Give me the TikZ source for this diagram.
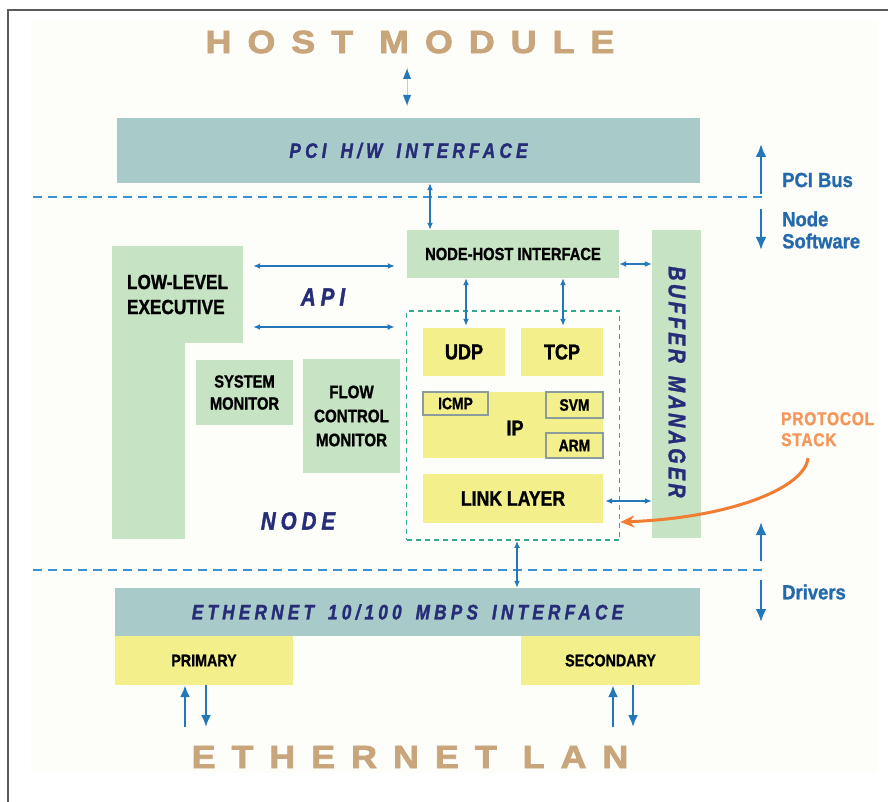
\documentclass[tikz,border=0pt]{standalone}
\usepackage{fontspec}
\setmainfont{Liberation Sans}
\newfontfamily\cnd[FakeStretch=0.84, BoldFeatures={FakeBold=1.2}]{Liberation Sans}
\newfontfamily\nvf[FakeStretch=0.82, BoldItalicFeatures={FakeBold=1.4}]{Liberation Sans}
\newfontfamily\ttlf[FakeStretch=1.12, BoldFeatures={FakeBold=2.4}]{Liberation Sans}
\newfontfamily\blf[FakeStretch=0.9, BoldFeatures={FakeBold=1}]{Liberation Sans}
\usetikzlibrary{arrows.meta,calc}
\definecolor{tealbox}{RGB}{168,203,201}
\definecolor{greenbox}{RGB}{198,228,196}
\definecolor{yelbox}{RGB}{243,240,140}
\definecolor{navy}{RGB}{38,44,120}
\definecolor{arrblue}{RGB}{35,120,185}
\definecolor{dashblue}{RGB}{60,145,210}
\definecolor{orng}{RGB}{240,125,50}
\definecolor{orngtxt}{RGB}{245,150,90}
\definecolor{tantxt}{RGB}{200,165,122}
\definecolor{dgreen}{RGB}{50,168,140}
\definecolor{subgray}{RGB}{140,155,155}
\definecolor{lblue}{RGB}{35,105,172}
\definecolor{bgtint}{RGB}{253,253,250}
\definecolor{framegray}{RGB}{90,90,90}
\newcommand\lbsz[2]{\cnd\bfseries\fontsize{#1}{#2}\selectfont}
\newcommand\nvsz[2]{\nvf\bfseries\itshape\fontsize{#1}{#1}\selectfont\addfontfeature{LetterSpace=#2}}
\newcommand\ttlfont{\ttlf\bfseries\fontsize{32}{34}\selectfont\addfontfeature{LetterSpace=50}}
\begin{document}
\begin{tikzpicture}[x=1pt,y=-1pt,
  tealb/.style={fill=tealbox, inner sep=0pt, text=navy},
  greenb/.style={fill=greenbox, inner sep=0pt, align=center, text=black},
  yelb/.style={fill=yelbox, inner sep=0pt, align=center, text=black},
  subb/.style={fill=yelbox, draw=subgray, line width=1.4pt, inner sep=0pt, text=black, font={\lbsz{16.5}{18}}},
  dbl/.style={arrblue, line width=1.6pt, {Latex[length=7pt,width=6pt]}-{Latex[length=7pt,width=6pt]}},
  bigarr/.style={arrblue, line width=2.6pt, -{Latex[length=13pt,width=11pt]}},
  lanarr/.style={arrblue, line width=2.2pt, -{Latex[length=12pt,width=10pt]}},
  divline/.style={dashblue, line width=2.2pt, dash pattern=on 9pt off 6pt},
  bluelbl/.style={text=lblue, font=\blf\bfseries\fontsize{20.5}{21}\selectfont, anchor=west, inner sep=0pt, align=left},
  navytxt/.style={text=navy, inner sep=0pt},
  titletxt/.style={text=tantxt, font=\ttlfont, inner sep=0pt}
]
\useasboundingbox (0,0) rectangle (888,802);
\fill[white] (0,0) rectangle (888,802);
\fill[bgtint] (31,21) rectangle (877,773);
\draw[framegray, line width=2pt] (8,803) -- (8,10) -- (889,10);

% titles
\node[titletxt] (hm) at (410,42) {HOST MODULE};
\node[titletxt] (lan) at (410,757) {ETHERNET LAN};

% PCI interface
\node[tealb, minimum width=583pt, minimum height=65pt, font={\nvsz{21}{20}}] (pci) at (408.5,150.5) {PCI \hspace{5pt}H/W \hspace{5pt}INTERFACE};

% divider lines
\coordinate (d1L) at (33,197); \coordinate (d1R) at (766,197);
\coordinate (d2L) at (33,570); \coordinate (d2R) at (766,570);
\draw[divline] (d1L) -- (d1R);
\draw[divline] (d2L) -- (d2R);

% host arrow
\coordinate (ha1) at (407,68); \coordinate (ha2) at (407,106);
\draw[arrblue!35, line width=0.8pt] (ha1) -- (ha2);
\fill[arrblue] (407,69) -- (403,79) -- (411,79) -- cycle;
\fill[arrblue] (407,105) -- (403,95) -- (411,95) -- cycle;

% right side labels
\coordinate (pbA) at (761,194); \coordinate (pbB) at (761,144);
\draw[bigarr] (pbA) -- (pbB);
\node[bluelbl] (pcibus) at (782,180) {PCI Bus};
\coordinate (nsA) at (761,209); \coordinate (nsB) at (761,250);
\draw[bigarr] (nsA) -- (nsB);
\node[bluelbl, font=\blf\bfseries\fontsize{20.5}{22}\selectfont] (nodesw) at (782,230) {Node\\Software};
\coordinate (drA) at (761,561); \coordinate (drB) at (761,522);
\draw[bigarr] (drA) -- (drB);
\coordinate (dvA) at (761,580); \coordinate (dvB) at (761,622);
\draw[bigarr] (dvA) -- (dvB);
\node[bluelbl] (drivers) at (782,592) {Drivers};

% node-host interface & buffer manager
\node[greenb, minimum width=212pt, minimum height=48pt, font={\lbsz{17.5}{20}}] (nh) at (513,254) {NODE-HOST INTERFACE};
\node[greenb, minimum width=49pt, minimum height=308pt] (buf) at (676.5,384) {};
\node[navytxt, rotate=-90, font={\nvsz{24}{14}}] (buftxt) at (677,382) {BUFFER \hspace{4pt}MANAGER};

% low-level executive (L-shape)
\node[greenb, minimum width=131pt, minimum height=97pt, font={\lbsz{20.5}{25}}, align=left] (lle) at (177.5,294.5) {LOW-LEVEL\\EXECUTIVE};
\node[greenb, minimum width=73pt, minimum height=196pt] (llestem) at (148.5,440.5) {};

% monitors
\node[greenb, minimum width=97pt, minimum height=65pt, font={\lbsz{17.5}{22}}] (sysmon) at (244.5,392.5) {SYSTEM\\MONITOR};
\node[greenb, minimum width=97pt, minimum height=114pt, font={\lbsz{18}{24}}] (fcm) at (351.5,416) {FLOW\\CONTROL\\MONITOR};

% API and NODE labels
\node[navytxt, font={\nvsz{25}{20}}] (api) at (323,297) {API};
\node[navytxt, font={\nvsz{25}{20}}] (nodelbl) at (298,521) {NODE};

% protocol stack
\node[draw=dgreen, line width=1.8pt, dash pattern=on 5pt off 4pt, minimum width=213pt, minimum height=229pt, inner sep=0pt] (stack) at (513,425.5) {};
\node[yelb, minimum width=82pt, minimum height=48pt, font={\lbsz{21.5}{24}}] (udp) at (464,352) {UDP};
\node[yelb, minimum width=82pt, minimum height=48pt, font={\lbsz{21.5}{24}}] (tcp) at (562,352) {TCP};
\node[yelb, minimum width=180pt, minimum height=66pt] (ip) at (513,425) {};
\node[inner sep=0pt, font={\lbsz{21.5}{24}}] (iptxt) at (515,428) {IP};
\node[subb, minimum width=65pt, minimum height=23pt] (icmp) at (455.5,403.5) {ICMP};
\node[subb, minimum width=57pt, minimum height=26pt] (svm) at (574.5,405) {SVM};
\node[subb, minimum width=57pt, minimum height=25pt] (arm) at (574.5,445.5) {ARM};
\node[yelb, minimum width=180pt, minimum height=49pt, font={\lbsz{21}{24}}] (link) at (513,498.5) {LINK LAYER};

% ethernet interface
\node[tealb, minimum width=585pt, minimum height=48pt, font={\nvsz{21}{20}}] (eth) at (407.5,612) {ETHERNET \hspace{5pt}10/100 \hspace{5pt}MBPS \hspace{5pt}INTERFACE};
\node[yelb, minimum width=178pt, minimum height=49pt, font={\lbsz{17}{20}}] (prim) at (204,660.5) {PRIMARY};
\node[yelb, minimum width=179pt, minimum height=49pt, font={\lbsz{17}{20}}] (sec) at (610.5,660.5) {SECONDARY};

% helper levels
\coordinate (y266) at (0,266);
\coordinate (y327) at (0,327);
\coordinate (y264) at (0,264);
\coordinate (y501) at (0,501);
\coordinate (x430) at (430,0);
\coordinate (x466) at (466,0);
\coordinate (x563) at (563,0);
\coordinate (x517) at (517,0);
\coordinate (x185) at (185,0);
\coordinate (x205) at (206,0);
\coordinate (x612) at (613,0);
\coordinate (x632) at (633,0);
\coordinate (y725) at (0,727);

% connectors
\draw[dbl] (x430 |- pci.south) -- (x430 |- nh.north);
\draw[dbl, shorten <=10pt, shorten >=12pt] (lle.east |- y266) -- (nh.west |- y266);
\draw[dbl, shorten <=10pt, shorten >=11pt] (lle.east |- y327) -- (stack.west |- y327);
\draw[dbl] (nh.east |- y264) -- (buf.west |- y264);
\draw[dbl, shorten >=2pt] (x466 |- nh.south) -- (x466 |- udp.north);
\draw[dbl, shorten >=2pt] (x563 |- nh.south) -- (x563 |- tcp.north);
\draw[dbl, shorten <=2pt] (link.east |- y501) -- (buf.west |- y501);
\draw[dbl] (x517 |- stack.south) -- (x517 |- eth.north);
\draw[lanarr] (x185 |- y725) -- (x185 |- prim.south);
\draw[lanarr] (x205 |- prim.south) -- (x205 |- y725);
\draw[lanarr] (x612 |- y725) -- (x612 |- sec.south);
\draw[lanarr] (x632 |- sec.south) -- (x632 |- y725);

% protocol stack callout
\node[text=orngtxt, font={\lbsz{18.5}{21}\addfontfeature{LetterSpace=4}}, align=left, anchor=north west, inner sep=0pt] (ps) at (781,412) {PROTOCOL\\STACK};
\coordinate (orS) at (808,458);
\coordinate (y522) at (0,522);
\draw[orng, line width=3pt, -{Stealth[length=14pt,width=12pt]}] (orS) .. controls (805,488) and (730,518) .. (stack.east |- y522);
\end{tikzpicture}
\end{document}
